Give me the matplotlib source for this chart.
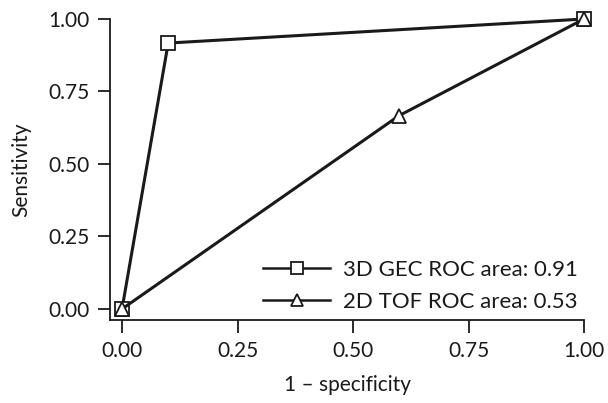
import matplotlib.pyplot as plt

plt.rcParams['font.family'] = ['Lato', 'DejaVu Sans']

fpr_gec = [0.0, 0.10, 1.0]
tpr_gec = [0.0, 0.917, 1.0]
fpr_tof = [0.0, 0.60, 1.0]
tpr_tof = [0.0, 0.667, 1.0]
ticks = [0.0, 0.25, 0.5, 0.75, 1.0]
tick_labels = ['0.00', '0.25', '0.50', '0.75', '1.00']

fig = plt.figure(figsize=(6.08, 4.03), dpi=100)
ax = fig.add_axes([110 / 608, 1 - 320 / 403, (584 - 110) / 608, (320 - 19) / 403])

ax.plot(fpr_gec, tpr_gec, color='#1a1a1a', lw=2.2, marker='s', ms=10,
        mfc='white', mec='#1a1a1a', mew=1.3, clip_on=False, zorder=3,
        label='3D GEC ROC area: 0.91')
ax.plot(fpr_tof, tpr_tof, color='#1a1a1a', lw=2.2, marker='^', ms=10,
        mfc='white', mec='#1a1a1a', mew=1.3, clip_on=False, zorder=3,
        label='2D TOF ROC area: 0.53')

ax.set_xlim(-0.026, 1.0)
ax.set_ylim(-0.038, 1.0)
ax.set_xticks(ticks)
ax.set_xticklabels(tick_labels)
ax.set_yticks(ticks)
ax.set_yticklabels(tick_labels)
ax.tick_params(direction='out', length=9, width=1.3, labelsize=15,
               colors='#1a1a1a', pad=6)
for s in ['top', 'right']:
    ax.spines[s].set_visible(False)
for s in ['left', 'bottom']:
    ax.spines[s].set_linewidth(1.3)
    ax.spines[s].set_color('#1a1a1a')

ax.set_xlabel('1 – specificity', fontsize=15, color='#1a1a1a', labelpad=10)
ax.set_ylabel('Sensitivity', fontsize=15, color='#1a1a1a', labelpad=12)

leg = ax.legend(loc='lower right', bbox_to_anchor=(1.002, 0.005), frameon=False,
                fontsize=16, handlelength=3.0, handletextpad=0.6,
                labelspacing=0.55, borderpad=0.3, borderaxespad=0)
for h in leg.legend_handles:
    h.set_linewidth(1.8)
    h.set_markersize(9)
for t in leg.get_texts():
    t.set_color('#1a1a1a')

fig.savefig('out.png', dpi=100)
